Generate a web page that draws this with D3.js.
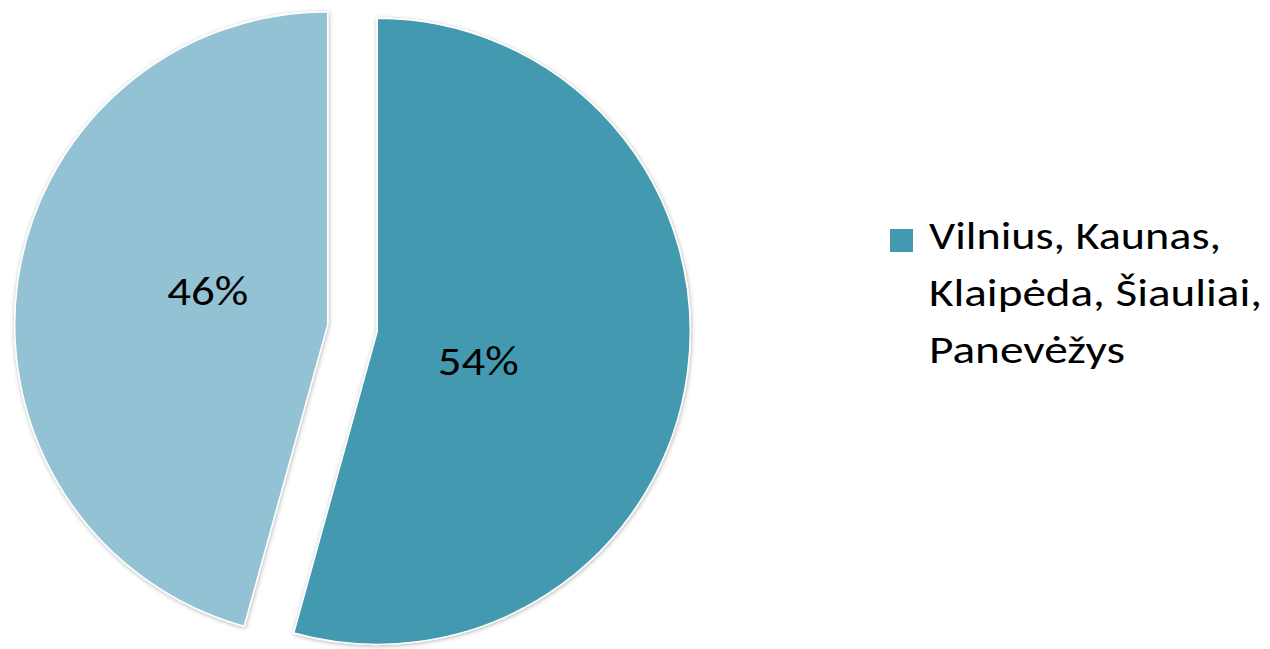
<!DOCTYPE html>
<html>
<head>
<meta charset="utf-8">
<script src="https://cdn.jsdelivr.net/npm/d3@7"></script>
<style>
  html, body { margin: 0; padding: 0; background: #fff; }
  svg { display: block; }
</style>
</head>
<body>
<svg id="chart" width="1270" height="649"></svg>
<script>
// ---- data ----
const categories = ["Vilnius, Kaunas, Klaipėda, Šiauliai, Panevėžys", "Kiti"];
const values = [54.3, 45.7];
const percentLabels = ["54%", "46%"];
const colors = ["#4399B0", "#93C2D4"];
const legendLines = ["Vilnius, Kaunas,", "Klaipėda, Šiauliai,", "Panevėžys"];

// ---- layout ----
const cx = 352.5, cy = 328, R = 313, explode = 25;
const FONT = "Carlito, Calibri, Lato, 'Open Sans', sans-serif";

const svg = d3.select("#chart");
const defs = svg.append("defs");
const f = defs.append("filter").attr("id", "shadow")
  .attr("x", "-10%").attr("y", "-10%").attr("width", "120%").attr("height", "120%");
f.append("feDropShadow").attr("dx", 0.5).attr("dy", 1).attr("stdDeviation", 2)
  .attr("flood-color", "#000").attr("flood-opacity", 0.3);

const pie = d3.pie().sort(null).value(d => d)(values);
const arc = d3.arc().innerRadius(0).outerRadius(R);

const g = svg.append("g").attr("transform", `translate(${cx},${cy})`);

const slices = g.selectAll("g.slice").data(pie).join("g")
  .attr("class", "slice")
  .attr("transform", d => {
    const a = (d.startAngle + d.endAngle) / 2;
    return `translate(${Math.sin(a) * explode},${-Math.cos(a) * explode})`;
  });

slices.append("path")
  .attr("d", arc)
  .attr("fill", (d, i) => colors[i])
  .attr("stroke", "#fff")
  .attr("stroke-width", 1.5)
  .attr("stroke-linejoin", "round")
  .attr("filter", "url(#shadow)");

// percent labels: placed near the sector's area centroid
function labelPos(d) {
  const span = d.endAngle - d.startAngle;
  const dist = 0.866 * (4 * R * Math.sin(span / 2)) / (3 * span);
  const a = (d.startAngle + d.endAngle) / 2 + 8.3 * Math.PI / 180;
  return [Math.sin(a) * dist, -Math.cos(a) * dist];
}
const pctSize = 41;

slices.append("text")
  .attr("x", d => labelPos(d)[0])
  .attr("y", d => labelPos(d)[1])
  .attr("dy", "0.36em")
  .attr("text-anchor", "middle")
  .attr("font-family", FONT)
  .attr("font-size", pctSize)
  .attr("textLength", 81)
  .attr("lengthAdjust", "spacingAndGlyphs")
  .attr("fill", "#000")
  .text((d, i) => percentLabels[i]);

// legend (only first category shown)
const legSize = 38.5;
const legWidths = [292, 333, 196];
const leg = svg.append("g").attr("transform", "translate(890,229)");
leg.append("rect").attr("x", 0).attr("y", 0).attr("width", 23).attr("height", 23)
  .attr("fill", colors[0]);
legendLines.forEach((line, i) => {
  leg.append("text")
    .attr("font-family", FONT)
    .attr("font-size", legSize)
    .attr("fill", "#000")
    .attr("x", 39).attr("y", 20 + i * 57)
    .attr("textLength", legWidths[i])
    .attr("lengthAdjust", "spacingAndGlyphs")
    .text(line);
});
</script>
</body>
</html>
